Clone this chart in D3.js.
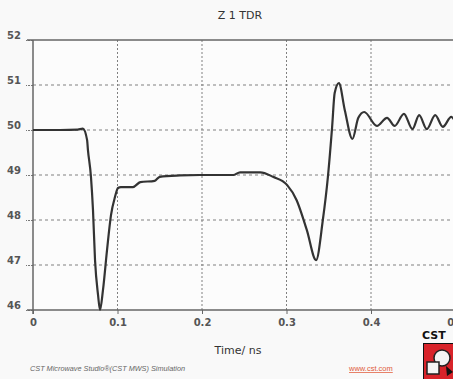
<!DOCTYPE html>
<html>
<head>
<meta charset="utf-8">
<script src="https://cdn.jsdelivr.net/npm/d3@7"></script>
<style>
  html, body { margin: 0; padding: 0; background: #f9f9f9; }
  svg { display: block; }
</style>
</head>
<body>
<svg id="chart" width="453" height="379"></svg>
<script>
// TDR impedance trace, Z in ohms against time in ns
const timeNs = [0, 0.032, 0.053, 0.059, 0.064, 0.065, 0.0686, 0.071, 0.0734, 0.077, 0.0793,
  0.0828, 0.0876, 0.0923, 0.097, 0.1006, 0.104, 0.118, 0.127, 0.144, 0.150, 0.174, 0.198,
  0.237, 0.245, 0.269, 0.284, 0.3006, 0.312, 0.324, 0.335, 0.343, 0.349, 0.354, 0.357,
  0.362, 0.369, 0.378, 0.385, 0.392, 0.407, 0.419, 0.428, 0.439, 0.449, 0.457, 0.466,
  0.476, 0.485, 0.495, 0.5];
const impedance = [50.0, 50.0, 50.01, 50.03, 49.78, 49.56, 48.96, 48.22, 47.11, 46.33, 46.0,
  46.44, 47.33, 48.11, 48.51, 48.71, 48.73, 48.73, 48.84, 48.87, 48.96, 48.99, 49.0,
  49.0, 49.06, 49.06, 48.96, 48.78, 48.44, 47.78, 47.11, 48.0, 48.96, 50.07, 50.82,
  51.04, 50.44, 49.8, 50.27, 50.4, 50.09, 50.27, 50.09, 50.36, 50.02, 50.33, 50.02,
  50.33, 50.07, 50.29, 50.18];
const xTicks = [0, 0.1, 0.2, 0.3, 0.4, 0.5];
const yTicks = [46, 47, 48, 49, 50, 51, 52];

const svg = d3.select("#chart");
const W = 453, H = 379;
const plotLeft = 33, plotTop = 40, plotBottom = 310;

const x = d3.scaleLinear().domain([0, 0.5]).range([plotLeft, plotLeft + 422.5]);
const y = d3.scaleLinear().domain([46, 52]).range([plotBottom, plotTop]);

const font = "'DejaVu Sans', Verdana, sans-serif";

// plot background
svg.append("rect").attr("x", plotLeft).attr("y", plotTop).attr("width", W - plotLeft).attr("height", plotBottom - plotTop)
  .attr("fill", "#fcfcfc");

// horizontal grid
svg.append("g").selectAll("line").data(yTicks.filter(d => d > 46 && d < 52)).join("line")
  .attr("x1", plotLeft).attr("x2", W).attr("y1", d => y(d)).attr("y2", d => y(d))
  .attr("stroke", "#808080").attr("stroke-width", 1).attr("stroke-dasharray", "3,3");

// vertical grid
svg.append("g").selectAll("line").data(xTicks.filter(d => d > 0)).join("line")
  .attr("x1", d => x(d)).attr("x2", d => x(d)).attr("y1", plotTop).attr("y2", plotBottom)
  .attr("stroke", "#808080").attr("stroke-width", 1).attr("stroke-dasharray", "2,2");

// axes with D3 tick generators
const yAxis = d3.axisLeft(y).tickValues(yTicks).tickSize(7).tickFormat(d3.format("d"));
const gy = svg.append("g").attr("transform", `translate(${plotLeft},0)`).call(yAxis);
gy.select(".domain").remove();
gy.selectAll(".tick line").attr("stroke", "#777").attr("stroke-dasharray", "2,1");
gy.selectAll(".tick text").attr("x", -12).attr("dy", "-0.15em")
  .attr("font-family", font).attr("font-size", 10).attr("font-weight", "bold").attr("fill", "#555");

const xAxis = d3.axisBottom(x).tickValues(xTicks).tickSize(4).tickFormat(d => d === 0 ? "0" : d3.format(".1f")(d));
const gx = svg.append("g").attr("transform", `translate(0,${plotBottom})`).call(xAxis);
gx.select(".domain").remove();
gx.selectAll(".tick line").attr("stroke", "#666");
gx.selectAll(".tick text").attr("y", 9)
  .attr("font-family", font).attr("font-size", 10).attr("font-weight", "bold").attr("fill", "#555");

// frame lines
svg.append("line").attr("x1", plotLeft - 6).attr("x2", W).attr("y1", plotTop).attr("y2", plotTop)
  .attr("stroke", "#666").attr("stroke-width", 1.5);
svg.append("line").attr("x1", plotLeft - 6).attr("x2", W).attr("y1", plotBottom).attr("y2", plotBottom)
  .attr("stroke", "#666").attr("stroke-width", 1.5);
svg.append("line").attr("x1", plotLeft).attr("x2", plotLeft).attr("y1", plotTop).attr("y2", plotBottom + 4)
  .attr("stroke", "#666").attr("stroke-width", 1.5);

// trace
const pts = timeNs.map((t, i) => [t, impedance[i]]);
svg.append("path").datum(pts)
  .attr("d", d3.line().x(d => x(d[0])).y(d => y(d[1])).curve(d3.curveMonotoneX))
  .attr("fill", "none").attr("stroke", "#333").attr("stroke-width", 2.2)
  .attr("stroke-linejoin", "round");

// titles
svg.append("text").attr("x", 240).attr("y", 19).attr("text-anchor", "middle")
  .attr("font-family", font).attr("font-size", 11).attr("fill", "#333").text("Z 1 TDR");
svg.append("text").attr("x", 238).attr("y", 354).attr("text-anchor", "middle")
  .attr("font-family", font).attr("font-size", 11).attr("fill", "#333").text("Time/ ns");

// footer
svg.append("text").attr("x", 30).attr("y", 371)
  .attr("font-family", "'Liberation Sans', Arial, sans-serif").attr("font-size", 7.3)
  .attr("font-style", "italic").attr("fill", "#666")
  .text("CST Microwave Studio®(CST MWS) Simulation");
svg.append("text").attr("x", 349).attr("y", 371)
  .attr("font-family", "'Liberation Sans', Arial, sans-serif").attr("font-size", 7.5)
  .attr("fill", "#e05a3a").attr("text-decoration", "underline").text("www.cst.com");

// CST logo
svg.append("text").attr("x", 422).attr("y", 339)
  .attr("font-family", "'DejaVu Sans', sans-serif").attr("font-size", 11).attr("font-weight", "bold")
  .attr("fill", "#111").text("CST");
const logo = svg.append("g");
logo.append("rect").attr("x", 423).attr("y", 343).attr("width", 32).attr("height", 36).attr("fill", "#111");
logo.append("rect").attr("x", 424).attr("y", 344).attr("width", 31).attr("height", 35).attr("fill", "#d8232a");
logo.append("circle").attr("cx", 442).attr("cy", 358).attr("r", 8).attr("fill", "#f4f4f4").attr("stroke", "#222").attr("stroke-width", 1.5);
logo.append("rect").attr("x", 427).attr("y", 362).attr("width", 12).attr("height", 12).attr("fill", "#f4f4f4").attr("stroke", "#222").attr("stroke-width", 1.5);
logo.append("path").attr("d", "M446,366 L453,372 L447,376 Z").attr("fill", "#111");
</script>
</body>
</html>
